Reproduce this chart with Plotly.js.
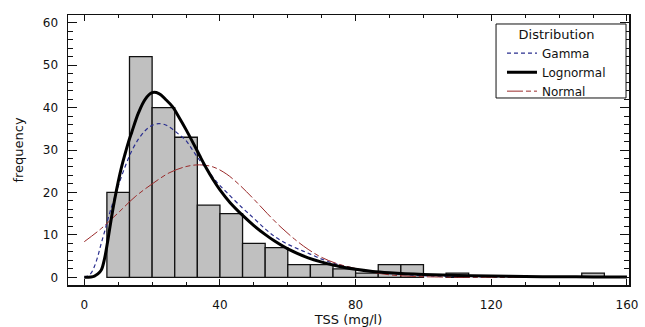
<!DOCTYPE html>
<html><head><meta charset="utf-8">
<script src="https://cdn.plot.ly/plotly-3.0.1.min.js"></script>
<style>html,body{margin:0;padding:0;background:#fff}</style>
</head><body><div id="chart" style="width:645px;height:327px"></div>
<script>
// Histogram bins (lower edges, mg/l) and frequencies
const binWidth = 6.667;
const binStarts = [6.667, 13.333, 20, 26.667, 33.333, 40, 46.667, 53.333, 60, 66.667, 73.333, 80, 86.667, 93.333, 106.667, 146.667];
const counts    = [20, 52, 40, 33, 17, 15, 8, 7, 3, 3, 2, 1, 3, 3, 1, 1];

// Fitted distribution curves
const gammaX = [0, 1, 2, 3, 4, 5, 6, 7, 8, 9, 10, 12, 14, 16, 18, 20, 22, 24, 26, 28, 30, 32, 34, 36, 39, 42, 46.7, 50, 53.5, 56, 59.5, 63, 66.3, 70, 74, 80, 85, 90, 100, 110, 120, 130, 140, 150, 160];
const gammaY = [0, 0.3, 1, 2.6, 5, 8, 10.8, 13.8, 16.5, 19, 21.5, 26, 29.8, 32.6, 34.6, 35.8, 36.2, 35.9, 34.9, 33.6, 32.2, 29.9, 27.6, 25.6, 22.5, 20, 16.3, 13.9, 11.3, 9.7, 8.0, 6.7, 5.6, 4.3, 3.2, 2.0, 1.3, 0.9, 0.4, 0.18, 0.08, 0.03, 0.01, 0, 0];

const lognormX = [0, 2, 3, 4, 5, 6, 7, 8, 9, 10, 11, 12, 13, 14, 16, 18, 20, 22, 24, 26, 28, 30, 32, 34, 36, 38, 40, 43, 46.7, 50, 53.5, 56, 60, 66, 74, 80, 85, 90, 100, 110, 120, 130, 140, 150, 160];
const lognormY = [0, 0.1, 0.3, 0.8, 1.7, 4.5, 9, 14, 18.5, 22.5, 26, 29, 31.8, 34.2, 38.8, 42, 43.5, 43.3, 41.9, 40.2, 37.6, 34.8, 31.8, 28.7, 25.7, 23, 20.6, 17.6, 14.6, 12.2, 10, 8.6, 6.7, 4.6, 2.8, 1.9, 1.4, 1.1, 0.7, 0.45, 0.3, 0.2, 0.15, 0.1, 0.08];

const normalX = [0, 5, 10, 15, 20, 25, 30, 34, 38, 42, 46, 50, 54, 58, 62, 66, 70, 75, 80, 85, 90, 95, 100, 110, 120, 140, 160];
const normalY = [8.4, 11.5, 15.2, 19, 22, 24.6, 26.1, 26.5, 26, 24.3, 21.6, 18.4, 15, 11.8, 9, 6.6, 4.7, 3.1, 2.1, 1.2, 0.6, 0.3, 0.15, 0.03, 0, 0, 0];

const xTitle = 'TSS (mg/l)';
const yTitle = 'frequency';
const legendTitle = 'Distribution';

const FONT = 'DejaVu Sans, Arial, sans-serif';

const traces = [
  {
    type: 'bar', x: binStarts, y: counts, width: binWidth, offset: 0,
    marker: {color: '#c0c0c0', line: {color: '#111', width: 1.3}},
    showlegend: false, hoverinfo: 'skip'
  },
  {
    type: 'scatter', mode: 'lines', name: 'Gamma', x: gammaX, y: gammaY,
    line: {color: '#2a2f8f', width: 1.2, dash: '4px,3px', shape: 'spline'}, legendrank: 1
  },
  {
    type: 'scatter', mode: 'lines', name: 'Normal', x: normalX, y: normalY,
    line: {color: '#9a2a2a', width: 1, dash: '16px,3px,5px,3px', shape: 'spline'}, legendrank: 3
  },
  {
    type: 'scatter', mode: 'lines', name: 'Lognormal', x: lognormX, y: lognormY,
    line: {color: '#000', width: 3, shape: 'spline'}, legendrank: 2
  }
];

const layout = {
  width: 645, height: 327,
  margin: {l: 68, r: 16, t: 15, b: 42},
  paper_bgcolor: '#fff', plot_bgcolor: '#fff',
  font: {family: FONT, size: 12, color: '#111'},
  bargap: 0,
  xaxis: {
    range: [-4.8, 160.6], tick0: 0, dtick: 40,
    ticks: 'inside', ticklen: 6, tickwidth: 1, tickcolor: '#111',
    minor: {dtick: 10, ticks: 'inside', ticklen: 3, tickcolor: '#111'},
    showline: true, linecolor: '#111', linewidth: 1.5, mirror: 'allticks',
    showgrid: false, zeroline: false, ticklabelstandoff: 8,
    tickfont: {size: 12},
    title: {text: xTitle, font: {size: 13}, standoff: 2}
  },
  yaxis: {
    range: [-1.8, 61.8], tick0: 0, dtick: 10,
    ticks: 'inside', ticklen: 9, tickwidth: 1, tickcolor: '#111',
    minor: {dtick: 2, ticks: 'inside', ticklen: 5, tickcolor: '#111'},
    showline: true, linecolor: '#111', linewidth: 1.5, mirror: 'allticks',
    showgrid: false, zeroline: false, ticklabelstandoff: 6,
    tickfont: {size: 12},
    title: {text: yTitle, font: {size: 13}, standoff: 16}
  },
  shapes: [{
    type: 'rect', xref: 'paper', yref: 'paper', layer: 'above',
    x0: 0.763, x1: 0.9947, y0: 0.6926, y1: 0.9667,
    line: {color: '#111', width: 1}, fillcolor: '#fff'
  }],
  legend: {
    x: 0.7736, y: 0.975, xanchor: 'left', yanchor: 'top',
    bgcolor: 'rgba(0,0,0,0)', borderwidth: 0,
    font: {size: 12},
    title: {text: legendTitle, side: 'top center', font: {size: 13}},
    tracegroupgap: 0
  },
  showlegend: true
};

Plotly.newPlot('chart', traces, layout, {displayModeBar: false, staticPlot: true});
</script>
</body></html>
